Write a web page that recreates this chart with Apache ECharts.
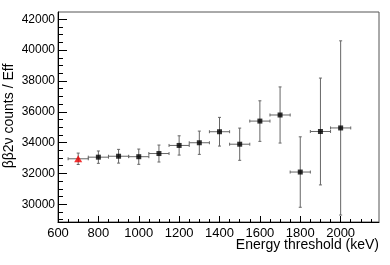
<!DOCTYPE html>
<html>
<head>
<meta charset="utf-8">
<script src="https://cdn.jsdelivr.net/npm/echarts@6/dist/echarts.min.js"></script>
<style>html,body{margin:0;padding:0;background:#fff;}#c{width:390px;height:265px;}</style>
</head>
<body>
<div id="c"></div>
<script>
// ---- data ----
var thresholds = [700, 800, 900, 1000, 1100, 1200, 1300, 1400, 1500, 1600, 1700, 1800, 1900, 2000];
var values     = [32950, 33055, 33115, 33085, 33290, 33815, 33990, 34705, 33895, 35395, 35790, 32090, 34720, 34950];
var yErrors    = [370, 400, 445, 495, 550, 625, 755, 930, 1045, 1315, 1820, 2285, 3465, 5650];
var xErrors    = [50, 50, 50, 50, 50, 50, 50, 50, 50, 50, 50, 50, 50, 50];
var xMajorTicks = [600, 800, 1000, 1200, 1400, 1600, 1800, 2000];
var yMajorTicks = [30000, 32000, 34000, 36000, 38000, 40000, 42000];
var xMinorTicks = [];
for (var v = 600; v <= 2150; v += 50) xMinorTicks.push(v);
var yMinorTicks = [];
for (var w = 29000; w <= 42000; w += 500) yMinorTicks.push(w);
var xTitle = 'Energy threshold (keV)';
var yTitle = 'ββ2ν counts / Eff';

var xMin = 600, xMax = 2190, yMin = 28850, yMax = 42470;
var FONT = 'Liberation Sans, Arial, Helvetica, sans-serif';

var errData = thresholds.map(function (t, i) { return [t, values[i], xErrors[i], yErrors[i]]; });
var firstPoint = [[thresholds[0], values[0]]];
var otherPoints = thresholds.slice(1).map(function (t, i) { return [t, values[i + 1]]; });

var chart = echarts.init(document.getElementById('c'), null, {renderer: 'canvas'});

function plain(v) { return String(v); }
function xAxisBase(extra) {
  return Object.assign({
    type: 'value', min: xMin, max: xMax, gridIndex: 0,
    splitLine: {show: false}
  }, extra);
}
function yAxisBase(extra) {
  return Object.assign({
    type: 'value', min: yMin, max: yMax, gridIndex: 0,
    splitLine: {show: false}
  }, extra);
}

var option = {
  animation: false,
  backgroundColor: '#fff',
  grid: {left: 58, top: 12, right: 11, bottom: 43, containLabel: false, outerBoundsMode: 'none',
         show: true, borderColor: '#555', borderWidth: 1, backgroundColor: 'transparent'},
  graphic: [
    {type: 'text', x: 379, y: 245, z: 10,
     style: {text: xTitle, fill: '#000', font: '14px ' + FONT, align: 'right', verticalAlign: 'middle'}},
    {type: 'text', x: 9, y: 116, rotation: Math.PI / 2, z: 10,
     style: {text: yTitle, fill: '#000', font: '14px ' + FONT, align: 'center', verticalAlign: 'middle'}}
  ],
  xAxis: [
    xAxisBase({
      position: 'bottom',
      axisLine: {show: true, onZero: false, lineStyle: {color: '#000', width: 1}},
      axisTick: {show: true, inside: true, length: 6, customValues: xMajorTicks, lineStyle: {color: '#000'}},
      axisLabel: {show: true, customValues: xMajorTicks, formatter: plain, color: '#000', fontSize: 13, fontFamily: FONT, margin: 5}
    }),
    xAxisBase({
      position: 'bottom',
      axisLine: {show: false, onZero: false},
      axisTick: {show: true, inside: true, length: 3, customValues: xMinorTicks, lineStyle: {color: '#000'}},
      axisLabel: {show: false}
    })
  ],
  yAxis: [
    yAxisBase({
      position: 'left',
      axisLine: {show: true, onZero: false, lineStyle: {color: '#000', width: 1}},
      axisTick: {show: true, inside: true, length: 9, customValues: yMajorTicks, lineStyle: {color: '#000'}},
      axisLabel: {show: true, customValues: yMajorTicks, formatter: plain, color: '#000', fontSize: 12, fontFamily: FONT, margin: 3}
    }),
    yAxisBase({
      position: 'left',
      axisLine: {show: false, onZero: false},
      axisTick: {show: true, inside: true, length: 5, customValues: yMinorTicks, lineStyle: {color: '#000'}},
      axisLabel: {show: false}
    })
  ],
  series: [
    {
      type: 'custom',
      xAxisIndex: 0, yAxisIndex: 0,
      data: errData,
      renderItem: function (params, api) {
        var x = api.value(0), y = api.value(1), ex = api.value(2), ey = api.value(3);
        var c = api.coord([x, y]);
        var l = api.coord([x - ex, y]);
        var r = api.coord([x + ex, y]);
        var t = api.coord([x, y + ey]);
        var b = api.coord([x, y - ey]);
        var cap = 1.5;
        var st = {stroke: '#666', lineWidth: 1};
        function ln(x1, y1, x2, y2) { return {type: 'line', shape: {x1: x1, y1: y1, x2: x2, y2: y2}, style: st}; }
        return {type: 'group', children: [
          ln(l[0], c[1], r[0], c[1]),
          ln(c[0], t[1], c[0], b[1]),
          ln(l[0], c[1] - cap, l[0], c[1] + cap),
          ln(r[0], c[1] - cap, r[0], c[1] + cap),
          ln(c[0] - cap, t[1], c[0] + cap, t[1]),
          ln(c[0] - cap, b[1], c[0] + cap, b[1])
        ]};
      },
      z: 2
    },
    {
      type: 'scatter', xAxisIndex: 0, yAxisIndex: 0,
      data: otherPoints, symbol: 'rect', symbolSize: 5,
      itemStyle: {color: '#000'}, z: 3
    },
    {
      type: 'scatter', xAxisIndex: 0, yAxisIndex: 0,
      data: firstPoint, symbol: 'triangle', symbolSize: [8, 7],
      itemStyle: {color: '#ee0000'}, z: 3
    }
  ]
};
chart.setOption(option);
</script>
</body>
</html>
